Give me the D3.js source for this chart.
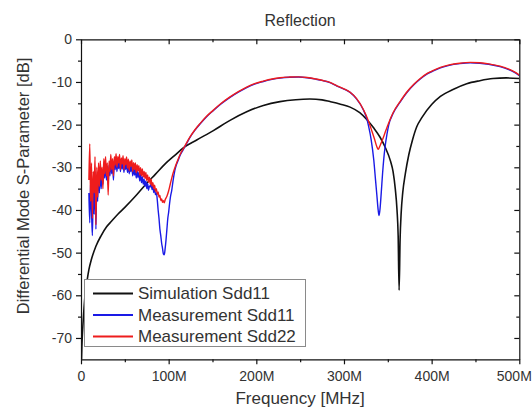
<!DOCTYPE html>
<html>
<head>
<meta charset="utf-8">
<script src="https://cdn.jsdelivr.net/npm/d3@7"></script>
<style>
  html, body { margin: 0; padding: 0; background: #fff; }
  svg { display: block; }
  text { font-family: "Liberation Sans", Arial, sans-serif; fill: #333; }
</style>
</head>
<body>
<svg id="chart" width="532" height="411"></svg>
<script>
// ---------------- DATA ----------------
const chartTitle = "Reflection";
const xTitle = "Frequency [MHz]";
const yTitle = "Differential Mode S-Parameter [dB]";
const xTickValues = [0, 100, 200, 300, 400, 500];
const xTickLabels = ["0", "100M", "200M", "300M", "400M", "500M"];
const yTickValues = [-70, -60, -50, -40, -30, -20, -10, 0];
const yTickLabels = ["-70", "-60", "-50", "-40", "-30", "-20", "-10", "0"];
const seriesNames = ["Simulation Sdd11", "Measurement Sdd11", "Measurement Sdd22"];
const seriesColors = ["#111111", "#1a1ae6", "#ee1c1c"];

// Simulation Sdd11 (frequency in MHz, value in dB)
const freqSim = [0.3, 1, 2.5, 4.6, 7, 9, 12, 17, 23, 29,
  35, 42, 50, 62, 73, 85, 96, 107, 117, 132,
  151, 170, 189, 208, 227, 245, 261, 275, 284, 296,
  307, 318, 326, 334, 341, 347, 353, 356, 358.5, 360.5,
  361.8, 362.9, 364, 365.3, 367, 370, 374, 378, 383, 389,
  400, 410, 425, 440, 455, 470, 485, 500];
const simDb = [-77, -72, -66, -60, -56.5, -54, -51.5, -48.5, -46, -44,
  -42.6, -41, -39.4, -36.8, -34.2, -31.6, -29.2, -27.2, -25.4, -23.6,
  -21.4, -19.0, -17.0, -15.5, -14.6, -14.15, -14.0, -14.2, -14.6, -15.2,
  -15.9, -17.2, -18.8, -20.8, -22.9, -25.3, -28.5, -31, -35, -40,
  -46, -58.8, -47, -40.5, -36, -31.5, -27, -23.7, -20.5, -18.3,
  -15.3, -13.4, -11.7, -10.4, -9.7, -9.2, -9.05, -9.2];

// Measurement Sdd11
const freqS11 = [9, 10, 11, 12, 13, 14, 15, 16, 17, 18, 19, 20, 21, 22, 23, 24, 25, 26, 27, 28, 29, 30,
  31, 32, 33, 34, 35, 36, 37, 38, 39, 40, 41, 42, 43, 44, 45, 46, 47, 48, 49, 50,
  51, 52, 53, 54, 55, 56, 57, 58, 59, 60, 61, 62, 63, 64, 65, 66, 67, 68, 69, 70,
  71, 72, 73, 74, 75, 76, 77, 78, 79, 80, 81, 82, 83, 84, 85, 86, 87, 88, 89, 90,
  91, 92, 93, 94, 95, 96, 97, 98, 99, 100, 101, 102,
  103.5, 105, 107, 109, 111, 113, 116, 120, 124, 130,
  136, 143, 151, 160, 170, 180, 189, 198, 208, 218,
  227, 238, 248, 258, 268, 276, 284, 292, 300, 307,
  314, 322, 326, 328, 331, 334, 336, 337.5, 339, 340,
  341, 342.5, 344, 345.5, 347, 349, 351, 356, 364, 372,
  380, 387, 395, 402, 410, 420, 432, 444, 455, 465,
  478, 488, 494, 500];
const s11Db = [-36, -43, -33, -40, -46, -35, -41, -31, -44.5, -33, -38, -31, -36, -30, -35, -31.5, -34, -30, -32.5, -29, -33, -30.5,
  -34, -29.5, -32, -28.5, -31.5, -29, -33, -28.6, -30.5, -28, -31, -28.5, -30.3, -28.2, -31, -28.6, -30.4, -28.5, -31.2, -29,
  -30.5, -28.8, -31.2, -29.3, -31.5, -29.6, -31, -29.7, -32, -30.2, -31.8, -30.4, -32.5, -30.8, -32.4, -31.2, -33.2, -31.6, -33.6, -32.2,
  -34, -32.8, -34.5, -33.2, -35, -33.8, -35.4, -34.4, -34.6, -33.8, -35.2, -34.5, -35.9, -35.2, -36.4, -36.0, -37.6, -40, -42, -44.5,
  -46, -47.8, -49, -50.3, -50.5, -49, -47, -44.5, -42, -40.5, -38.6, -37,
  -35.4, -33.2, -30.8, -29.3, -28.3, -27.2, -26.1, -24.6, -23.1, -21.3,
  -19.8, -18.2, -16.7, -15.1, -13.6, -12.3, -11.3, -10.5, -9.9, -9.4,
  -9.1, -8.9, -8.85, -9.0, -9.35, -9.7, -10.15, -10.95, -11.65, -12.45,
  -13.9, -16.5, -18.6, -20.3, -23.5, -28.3, -33, -36.5, -40, -41.3,
  -40, -36, -31.5, -27.8, -25, -22.3, -20.1, -17.4, -14.7, -12.4,
  -10.6, -9.3, -8.1, -7.4, -6.7, -6.1, -5.7, -5.5, -5.6, -5.85,
  -6.4, -7.1, -7.7, -8.5];

// Measurement Sdd22
const freqS22 = [9, 10, 11, 12, 13, 14, 15, 16, 17, 18, 19, 20, 21, 22, 23, 24, 25, 26, 27, 28, 29, 30,
  31, 32, 33, 34, 35, 36, 37, 38, 39, 40, 41, 42, 43, 44, 45, 46, 47, 48, 49, 50,
  51, 52, 53, 54, 55, 56, 57, 58, 59, 60, 61, 62, 63, 64, 65, 66, 67, 68, 69, 70,
  71, 72, 73, 74, 75, 76, 77, 78, 79, 80, 81, 82, 83, 84, 85, 86, 87, 88, 89, 90,
  91, 92, 93, 94, 95, 96,
  98, 100, 102, 105, 108, 111, 114, 118, 124, 130,
  136, 143, 151, 160, 170, 180, 189, 198, 208, 218,
  227, 238, 248, 258, 268, 276, 284, 292, 300, 307,
  314, 322, 328, 332, 335, 337.5, 339, 341, 344, 347,
  351, 356, 364, 372, 380, 387, 395, 402, 410, 420,
  432, 444, 455, 465, 478, 488, 494, 500];
const s22Db = [-33, -24.5, -38, -29, -42, -31, -36, -27.5, -43.5, -30, -37, -29, -34.5, -28.5, -33, -30, -35, -28, -31.5, -27.5, -32, -29,
  -36.5, -28.5, -31, -27, -30.5, -28, -32, -27.5, -29.5, -26.8, -30, -27.5, -29, -27, -30.5, -27.8, -29.2, -27.3, -30.6, -28,
  -29.4, -27.6, -30.2, -28.1, -30.8, -28.5, -29.8, -28.3, -31, -28.9, -30.5, -29, -31.3, -29.4, -30.9, -29.6, -31.8, -30.1, -32, -30.4,
  -32.3, -31, -32.6, -31.2, -33.1, -31.8, -33.5, -32.3, -34, -32.8, -34.4, -33.6, -35, -34.2, -35.6, -35, -36.3, -35.8, -37, -36.6,
  -37.8, -37.4, -38.2, -37.8, -38.3, -37.6,
  -36.8, -35.5, -33.8, -31.4, -29.6, -28, -26.6, -25.2, -23, -21.2,
  -19.7, -18.1, -16.6, -15, -13.5, -12.2, -11.2, -10.4, -9.8, -9.3,
  -9.0, -8.85, -8.8, -8.95, -9.3, -9.65, -10.1, -10.9, -11.6, -12.4,
  -13.8, -16.4, -19.2, -21.6, -23.5, -25.2, -25.8, -25, -23.5, -21.8,
  -19.6, -17.2, -14.6, -12.3, -10.5, -9.2, -8.0, -7.3, -6.6, -6.0,
  -5.6, -5.4, -5.5, -5.75, -6.3, -7.0, -7.6, -8.4];

// ---------------- CHART ----------------
const svg = d3.select("#chart");
const plot = { left: 81, right: 519.3, top: 39.3, bottom: 359.3 };

const x = d3.scaleLinear().domain([0, 500]).range([plot.left, plot.right]);
const y = d3.scaleLinear().domain([-75, 0]).range([plot.bottom, plot.top]);

svg.append("rect").attr("width", 532).attr("height", 411).attr("fill", "#fff");

svg.append("defs").append("clipPath").attr("id", "clip")
  .append("rect")
  .attr("x", plot.left).attr("y", plot.top)
  .attr("width", plot.right - plot.left).attr("height", plot.bottom - plot.top);

// series
const series = [
  { f: freqSim, v: simDb, color: seriesColors[0], w: 1.6 },
  { f: freqS11, v: s11Db, color: seriesColors[1], w: 1.4 },
  { f: freqS22, v: s22Db, color: seriesColors[2], w: 1.4 }
];
const line = d3.line().x(d => x(d[0])).y(d => y(d[1])).curve(d3.curveMonotoneX);
const gLines = svg.append("g").attr("clip-path", "url(#clip)");
series.forEach(s => {
  const pts = d3.zip(s.f, s.v);
  gLines.append("path").datum(pts)
    .attr("d", line)
    .attr("fill", "none")
    .attr("stroke", s.color)
    .attr("stroke-width", s.w)
    .attr("stroke-linejoin", "round");
});

// axes
const fmtX = d => xTickLabels[xTickValues.indexOf(d)];
const fmtY = d => yTickLabels[yTickValues.indexOf(d)];
const xMinor = d3.range(50, 500, 100);
const yMinor = d3.range(-65, 0, 10);

function styleAxis(g) {
  g.select(".domain").attr("stroke", "#111").attr("stroke-width", 1.2);
  g.selectAll(".tick line").attr("stroke", "#111").attr("stroke-width", 1.2);
  g.selectAll(".tick text")
    .attr("font-size", 14)
    .attr("font-family", '"Liberation Sans", Arial, sans-serif')
    .attr("fill", "#333");
}
function minorStyle(g) {
  g.select(".domain").remove();
  g.selectAll("line").attr("stroke", "#111").attr("stroke-width", 1.2);
}

// bottom
const gx = svg.append("g").attr("transform", `translate(0,${plot.bottom})`)
  .call(d3.axisBottom(x).tickValues(xTickValues).tickFormat(fmtX).tickSize(5).tickPadding(7).tickSizeOuter(0));
styleAxis(gx);
// keep the last label inside the window (reference shows it at the right edge)
gx.selectAll(".tick text").filter(d => d === 500).attr("text-anchor", "end").attr("dx", "12");
svg.append("g").attr("transform", `translate(0,${plot.bottom})`)
  .call(d3.axisBottom(x).tickValues(xMinor).tickFormat("").tickSize(3).tickSizeOuter(0))
  .call(minorStyle);

// top (inward)
const gt = svg.append("g").attr("transform", `translate(0,${plot.top})`)
  .call(d3.axisBottom(x).tickValues(xTickValues).tickFormat("").tickSize(5).tickSizeOuter(0));
styleAxis(gt);
svg.append("g").attr("transform", `translate(0,${plot.top})`)
  .call(d3.axisBottom(x).tickValues(xMinor).tickFormat("").tickSize(3).tickSizeOuter(0))
  .call(minorStyle);

// left
const gy = svg.append("g").attr("transform", `translate(${plot.left},0)`)
  .call(d3.axisLeft(y).tickValues(yTickValues).tickFormat(fmtY).tickSize(5).tickPadding(4).tickSizeOuter(0));
styleAxis(gy);
svg.append("g").attr("transform", `translate(${plot.left},0)`)
  .call(d3.axisLeft(y).tickValues(yMinor).tickFormat("").tickSize(3).tickSizeOuter(0))
  .call(minorStyle);

// right (inward)
const gr = svg.append("g").attr("transform", `translate(${plot.right},0)`)
  .call(d3.axisLeft(y).tickValues(yTickValues).tickFormat("").tickSize(5).tickSizeOuter(0));
styleAxis(gr);
svg.append("g").attr("transform", `translate(${plot.right},0)`)
  .call(d3.axisLeft(y).tickValues(yMinor).tickFormat("").tickSize(3).tickSizeOuter(0))
  .call(minorStyle);

// titles
svg.append("text").attr("x", (plot.left + plot.right) / 2).attr("y", 26)
  .attr("text-anchor", "middle").attr("font-size", 16).text(chartTitle);
svg.append("text").attr("x", (plot.left + plot.right) / 2).attr("y", 404)
  .attr("text-anchor", "middle").attr("font-size", 17).text(xTitle);
svg.append("text").attr("transform", "translate(29,186) rotate(-90)")
  .attr("text-anchor", "middle").attr("font-size", 16.5).text(yTitle);

// legend
const lg = svg.append("g");
lg.append("rect").attr("x", 84.5).attr("y", 279.5).attr("width", 221).attr("height", 67)
  .attr("fill", "#fff").attr("stroke", "#8a8a8a").attr("stroke-width", 1);
const legendRows = [293.5, 315, 336.5];
seriesNames.forEach((name, i) => {
  lg.append("line").attr("x1", 93).attr("x2", 133)
    .attr("y1", legendRows[i]).attr("y2", legendRows[i])
    .attr("stroke", seriesColors[i]).attr("stroke-width", 1.8);
  lg.append("text").attr("x", 138).attr("y", legendRows[i])
    .attr("dominant-baseline", "central").attr("font-size", 17).text(name);
});
</script>
</body>
</html>
